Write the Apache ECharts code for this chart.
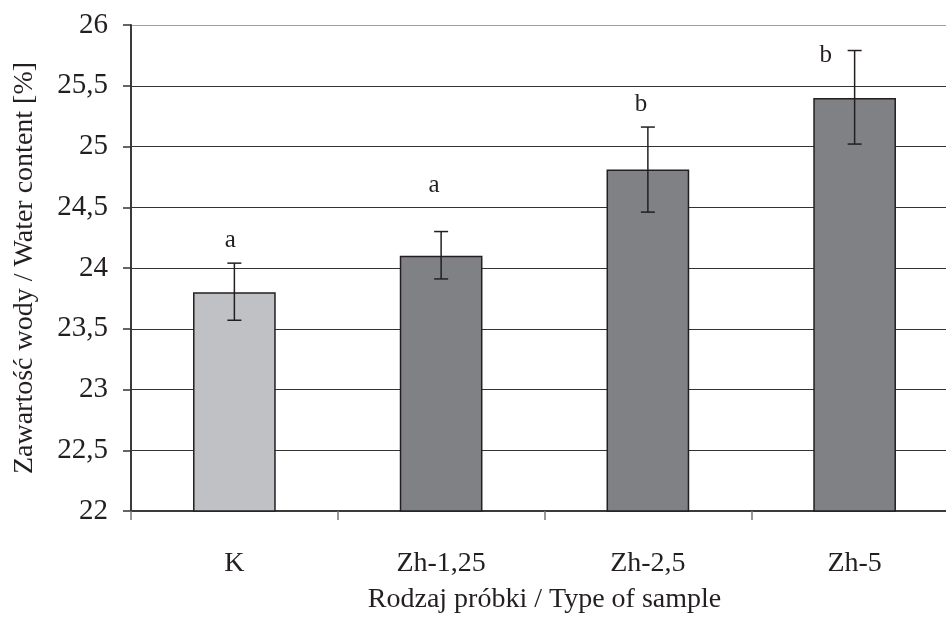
<!DOCTYPE html>
<html><head><meta charset="utf-8">
<script src="https://cdn.jsdelivr.net/npm/echarts@6/dist/echarts.min.js"></script>
<style>html,body{margin:0;padding:0;background:#fff}#c{width:946px;height:624px}</style>
</head><body><div id="c"></div>
<script>
const categories = ['K', 'Zh-1,25', 'Zh-2,5', 'Zh-5'];
const values = [23.80, 24.10, 24.81, 25.40];
const errLow = [23.57, 23.91, 24.46, 25.02];
const errHigh = [24.04, 24.30, 25.16, 25.79];
const letters = ['a', 'a', 'b', 'b'];
const letterY = [24.23, 24.68, 25.35, 25.75];
const yTicks = ['22', '22,5', '23', '23,5', '24', '24,5', '25', '25,5', '26'];
const barColors = ['#c0c1c5', '#808184', '#808184', '#808184'];
const letterDx = [-4, -7, -7, -29];

const font = '"Liberation Serif", "Times New Roman", serif';
const txt = '#231f20';
const chart = echarts.init(document.getElementById('c'));
chart.setOption({
  animation: false,
  backgroundColor: '#fff',
  grid: { left: 131, right: -12, top: 25, bottom: 113, containLabel: false, outerBoundsMode: 'none' },
  xAxis: {
    type: 'category', data: categories, boundaryGap: true,
    axisLine: { lineStyle: { color: '#3a3a3a', width: 2 } },
    axisTick: { show: true, length: 9, lineStyle: { color: '#777', width: 1.5 } },
    axisLabel: { color: txt, fontFamily: font, fontSize: 28, margin: 39 },
    name: 'Rodzaj próbki / Type of sample', nameLocation: 'middle', nameGap: 75,
    nameTextStyle: { color: txt, fontFamily: font, fontSize: 28 }
  },
  yAxis: {
    type: 'value', min: 22, max: 26, interval: 0.5,
    axisLine: { show: true, lineStyle: { color: '#3a3a3a', width: 2 } },
    axisTick: { show: true, length: 8, lineStyle: { color: '#333', width: 1.5 } },
    axisLabel: { color: txt, fontFamily: font, fontSize: 29, margin: 23,
      formatter: v => yTicks[Math.round((v - 22) / 0.5)] },
    splitLine: { lineStyle: { color: ['#333', '#333', '#333', '#333', '#333', '#333', '#333', '#333', '#a0a0a0'], width: 1.2 } },
    name: 'Zawartość wody / Water content [%]', nameLocation: 'middle', nameGap: 92,
    nameTextStyle: { color: txt, fontFamily: font, fontSize: 28 }
  },
  series: [
    {
      type: 'bar', barWidth: '40%',
      data: values.map((v, i) => ({ value: v, itemStyle: { color: barColors[i] } })),
      itemStyle: { borderColor: '#231f20', borderWidth: 1.5 }
    },
    {
      type: 'custom',
      data: categories.map((c, i) => [i, errLow[i], errHigh[i]]),
      renderItem: (params, api) => {
        const lo = api.coord([api.value(0), api.value(1)]);
        const hi = api.coord([api.value(0), api.value(2)]);
        const w = 7;
        const st = { stroke: '#231f20', lineWidth: 1.5 };
        return { type: 'group', children: [
          { type: 'line', shape: { x1: lo[0], y1: lo[1], x2: hi[0], y2: hi[1] }, style: st },
          { type: 'line', shape: { x1: lo[0] - w, y1: lo[1], x2: lo[0] + w, y2: lo[1] }, style: st },
          { type: 'line', shape: { x1: hi[0] - w, y1: hi[1], x2: hi[0] + w, y2: hi[1] }, style: st }
        ]};
      },
      z: 5
    },
    {
      type: 'custom',
      data: categories.map((c, i) => [i, letterY[i]]),
      renderItem: (params, api) => {
        const p = api.coord([api.value(0), api.value(1)]);
        const i = params.dataIndex;
        return { type: 'text', x: p[0] + letterDx[i], y: p[1],
          style: { text: letters[i], fill: txt, font: '25px ' + font, textAlign: 'center', textVerticalAlign: 'middle' } };
      },
      z: 6
    }
  ]
});
</script></body></html>
